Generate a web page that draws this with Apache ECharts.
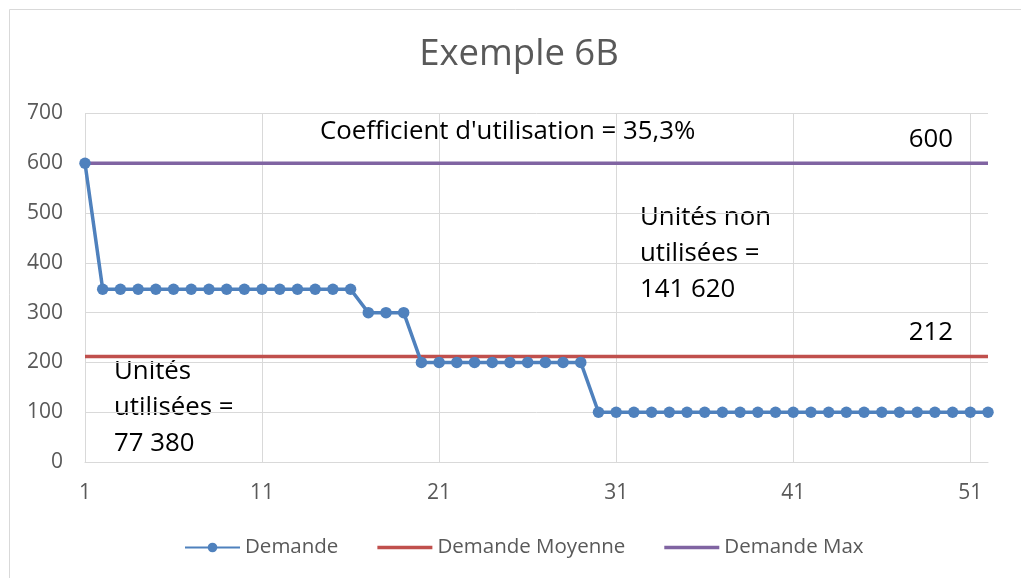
<!DOCTYPE html>
<html><head><meta charset="utf-8">
<script src="https://cdn.jsdelivr.net/npm/echarts@6/dist/echarts.min.js"></script>
<style>html,body{margin:0;padding:0;background:#fff}#c{width:1021px;height:578px}</style>
</head><body><div id="c"></div>
<script>
const categories = Array.from({length: 52}, (_, i) => String(i + 1));
const demande = [600,
  347,347,347,347,347,347,347,347,347,347,347,347,347,347,347,
  300,300,300,
  200,200,200,200,200,200,200,200,200,200,
  100,100,100,100,100,100,100,100,100,100,100,100,100,100,100,100,100,100,100,100,100,100,100];
const demandeMoyenne = categories.map(() => 212);
const demandeMax = categories.map(() => 600);
const yTicks = [0, 100, 200, 300, 400, 500, 600, 700];
const titleText = 'Exemple 6B';
const annotations = {
  coef: "Coefficient d'utilisation = 35,3%",
  max: "600",
  nonUtil: "Unités non\nutilisées =\n141 620",
  moy: "212",
  util: "Unités\nutilisées =\n77 380"
};
const F = '"Open Sans", sans-serif';
const AF = '25.8px ' + F;
const chart = echarts.init(document.getElementById('c'));
chart.setOption({
  animation: false,
  backgroundColor: '#fff',
  grid: {left: 85, right: 33, top: 113.5, bottom: 116},
  legend: {
    top: 532, left: 179, itemGap: 39, itemWidth: 55, itemHeight: 12,
    textStyle: {fontFamily: F, fontSize: 20.5, color: '#595959'},
    data: [
      {name: 'Demande'},
      {name: 'Demande Moyenne', icon: 'path://M0,0 L55,0 L55,3.5 L0,3.5 Z'},
      {name: 'Demande Max', icon: 'path://M0,0 L55,0 L55,3.5 L0,3.5 Z'}
    ]
  },
  xAxis: {
    type: 'category', data: categories, boundaryGap: false,
    axisLine: {lineStyle: {color: '#d9d9d9', width: 1}},
    axisTick: {show: false},
    axisLabel: {interval: 9, fontFamily: F, fontSize: 21, color: '#595959', margin: 21},
    splitLine: {show: true, interval: 9, lineStyle: {color: '#d9d9d9', width: 1}}
  },
  yAxis: {
    type: 'value', min: 0, max: 700, interval: 100,
    axisLine: {show: false}, axisTick: {show: false},
    axisLabel: {fontFamily: F, fontSize: 21, color: '#595959', margin: 22,
      formatter: v => yTicks.includes(v) ? String(v) : ''},
    splitLine: {lineStyle: {color: '#d9d9d9', width: 1}}
  },
  series: [
    {name: 'Demande Moyenne', type: 'line', data: demandeMoyenne, showSymbol: false, symbol: 'none',
      lineStyle: {color: '#C0504D', width: 3.5}, itemStyle: {color: '#C0504D'}, z: 2},
    {name: 'Demande Max', type: 'line', data: demandeMax, showSymbol: false, symbol: 'none',
      lineStyle: {color: '#8064A2', width: 3.5}, itemStyle: {color: '#8064A2'}, z: 2},
    {name: 'Demande', type: 'line', data: demande, symbol: 'circle', symbolSize: 11.5,
      lineStyle: {color: '#4F81BD', width: 3.5}, itemStyle: {color: '#4F81BD'}, z: 3}
  ],
  graphic: [
    {type: 'text', x: 519, y: 55, style: {text: titleText, font: '36.5px ' + F, fill: '#595959', align: 'center', verticalAlign: 'middle'}},
    {type: 'text', x: 320, y: 113.5, style: {text: annotations.coef, font: AF, fill: '#000', lineHeight: 36, verticalAlign: 'top'}},
    {type: 'text', x: 953, y: 122, style: {text: annotations.max, font: AF, fill: '#000', align: 'right', lineHeight: 36, verticalAlign: 'top'}},
    {type: 'text', x: 640, y: 199.5, style: {text: annotations.nonUtil, font: AF, fill: '#000', lineHeight: 36, verticalAlign: 'top'}},
    {type: 'text', x: 953, y: 315, style: {text: annotations.moy, font: AF, fill: '#000', align: 'right', lineHeight: 36, verticalAlign: 'top'}},
    {type: 'text', x: 114, y: 353.5, style: {text: annotations.util, font: AF, fill: '#000', lineHeight: 36, verticalAlign: 'top'}},
    {type: 'rect', shape: {x: 9.5, y: 9.5, width: 1030, height: 600}, style: {fill: 'none', stroke: '#d9d9d9', lineWidth: 1}, silent: true}
  ]
});
</script></body></html>
